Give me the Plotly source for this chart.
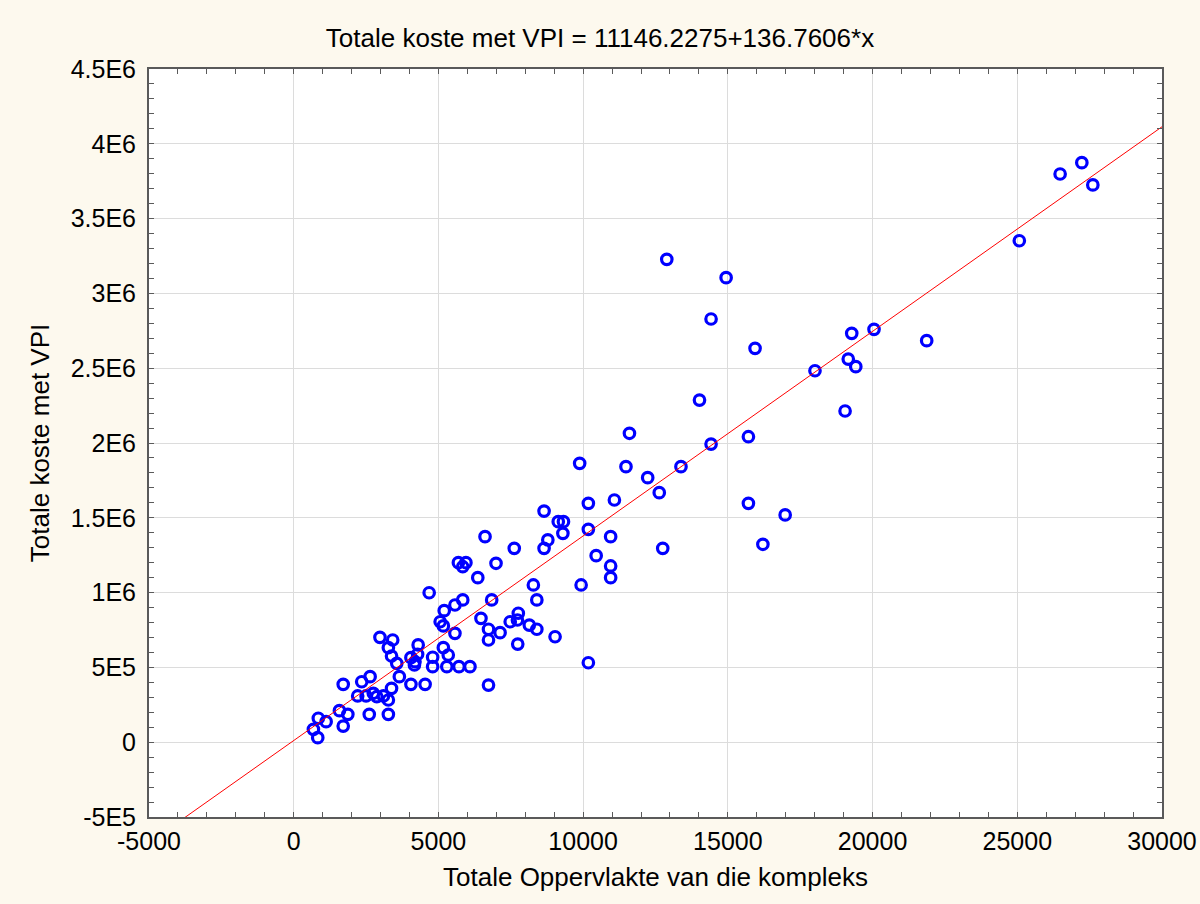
import plotly.graph_objects as go

# Data
area = [680, 830, 850, 1120, 1710, 1580, 1870, 1710, 2350, 2640,
        2210, 2500, 2750, 2870, 2610, 3270, 3100, 3270, 3380, 2980,
        3420, 3270, 3380, 3560, 3650, 4050, 4540, 4050, 4190, 4300,
        4280, 4170, 4680, 4800, 4800, 5200, 5060, 5170, 5570, 5840,
        5570, 5170, 5340, 5290, 5710, 6090, 5690, 5950, 5840, 6610,
        7620, 6990, 6360, 6840, 6470, 6730, 6730, 7130, 7480, 7760,
        7730, 7740, 6730, 8280, 8400, 8140, 8400, 9030, 8650, 9140,
        9320, 9300, 8780, 8650, 9880, 9930, 10180, 10180, 10950, 10450,
        10950, 10950, 10180, 11080, 11480, 11600, 12230, 12630, 13380, 12750,
        12890, 14940, 14420, 15940, 14020, 14420, 15710, 15710, 16980, 16210,
        18010, 19160, 19420, 19280, 20050, 19050, 21870, 25070, 26480, 27230,
        27610]
cost = [86000, 30000, 160000, 137000, 108000, 211000, 186000, 387000, 404000, 438000,
        309000, 309000, 327000, 304000, 186000, 186000, 309000, 282000, 360000, 701000,
        683000, 632000, 576000, 527000, 438000, 387000, 387000, 565000, 538000, 650000,
        588000, 516000, 999000, 568000, 505000, 879000, 805000, 777000, 917000, 951000,
        728000, 632000, 583000, 505000, 505000, 505000, 1200000, 1200000, 1173000, 1374000,
        1296000, 1196000, 1100000, 951000, 828000, 755000, 683000, 732000, 805000, 862000,
        817000, 656000, 382000, 1051000, 951000, 783000, 755000, 705000, 1545000, 1474000,
        1474000, 1396000, 1352000, 1296000, 1864000, 1051000, 1597000, 1423000, 1374000, 1247000,
        1178000, 1100000, 531000, 1619000, 1842000, 2065000, 1768000, 1668000, 1842000, 1296000,
        3228000, 3105000, 2829000, 2633000, 2287000, 1993000, 2042000, 1597000, 1519000, 1323000,
        2483000, 2561000, 2510000, 2733000, 2760000, 2214000, 2684000, 3352000, 3798000, 3874000,
        3725000]

intercept = 11146.2275
slope = 136.7606

x_tickvals = [-5000, 0, 5000, 10000, 15000, 20000, 25000, 30000]
x_ticktext = ["-5000", "0", "5000", "10000", "15000", "20000", "25000", "30000"]
y_tickvals = [-500000, 0, 500000, 1000000, 1500000, 2000000, 2500000, 3000000, 3500000, 4000000, 4500000]
y_ticktext = ["-5E5", "0", "5E5", "1E6", "1.5E6", "2E6", "2.5E6", "3E6", "3.5E6", "4E6", "4.5E6"]

x_range = [-5000, 30000]
y_range = [-500000, 4500000]

line_x = [x_range[0], x_range[1]]
line_y = [intercept + slope * v for v in line_x]

FONT = "Liberation Sans, Arial, Helvetica, sans-serif"
BG = "#FDF9EE"
AXC = "#5a5a5a"

fig = go.Figure()
fig.add_trace(go.Scatter(
    x=area, y=cost, mode="markers",
    marker=dict(symbol="circle-open", size=10.5, color="#0000FF",
                line=dict(width=3.2, color="#0000FF")),
    showlegend=False, cliponaxis=True,
))
fig.add_trace(go.Scatter(
    x=line_x, y=line_y, mode="lines",
    line=dict(color="#FF0000", width=1),
    showlegend=False,
))

axis_common = dict(
    showline=True, linecolor=AXC, linewidth=2, mirror="ticks",
    ticks="inside", ticklen=5, tickwidth=1, tickcolor=AXC,
    showgrid=True, gridcolor="#DCDCDC", gridwidth=1,
    zeroline=False,
    tickfont=dict(family=FONT, size=25, color="#000000"),
)

fig.update_xaxes(
    **axis_common,
    range=x_range, tickmode="array", tickvals=x_tickvals, ticktext=x_ticktext,
    minor=dict(ticks="inside", ticklen=5, tickcolor=AXC, dtick=1000, tick0=0, showgrid=False),
    title=dict(text="Totale Oppervlakte van die kompleks",
               font=dict(family=FONT, size=26, color="#000000"), standoff=14),
    ticklabelstandoff=1,
)
fig.update_yaxes(
    **axis_common,
    range=y_range, tickmode="array", tickvals=y_tickvals, ticktext=y_ticktext,
    minor=dict(ticks="inside", ticklen=5, tickcolor=AXC, dtick=100000, tick0=0, showgrid=False),
    title=dict(text="Totale koste met VPI",
               font=dict(family=FONT, size=26, color="#000000"), standoff=14),
    ticklabelstandoff=6,
)

fig.update_layout(
    width=1200, height=904,
    paper_bgcolor=BG, plot_bgcolor="#FFFFFF",
    margin=dict(l=149, r=38, t=69, b=87, autoexpand=False),
    title=dict(text="Totale koste met VPI = 11146.2275+136.7606*x",
               font=dict(family=FONT, size=26, color="#000000"),
               x=0.5, xref="container", xanchor="center",
               y=1 - 38 / 904, yref="container", yanchor="middle"),
)

fig.write_html(
    "out.html",
    config={"displayModeBar": False},
    post_script="document.body.style.margin='0';document.body.style.padding='0';",
)
